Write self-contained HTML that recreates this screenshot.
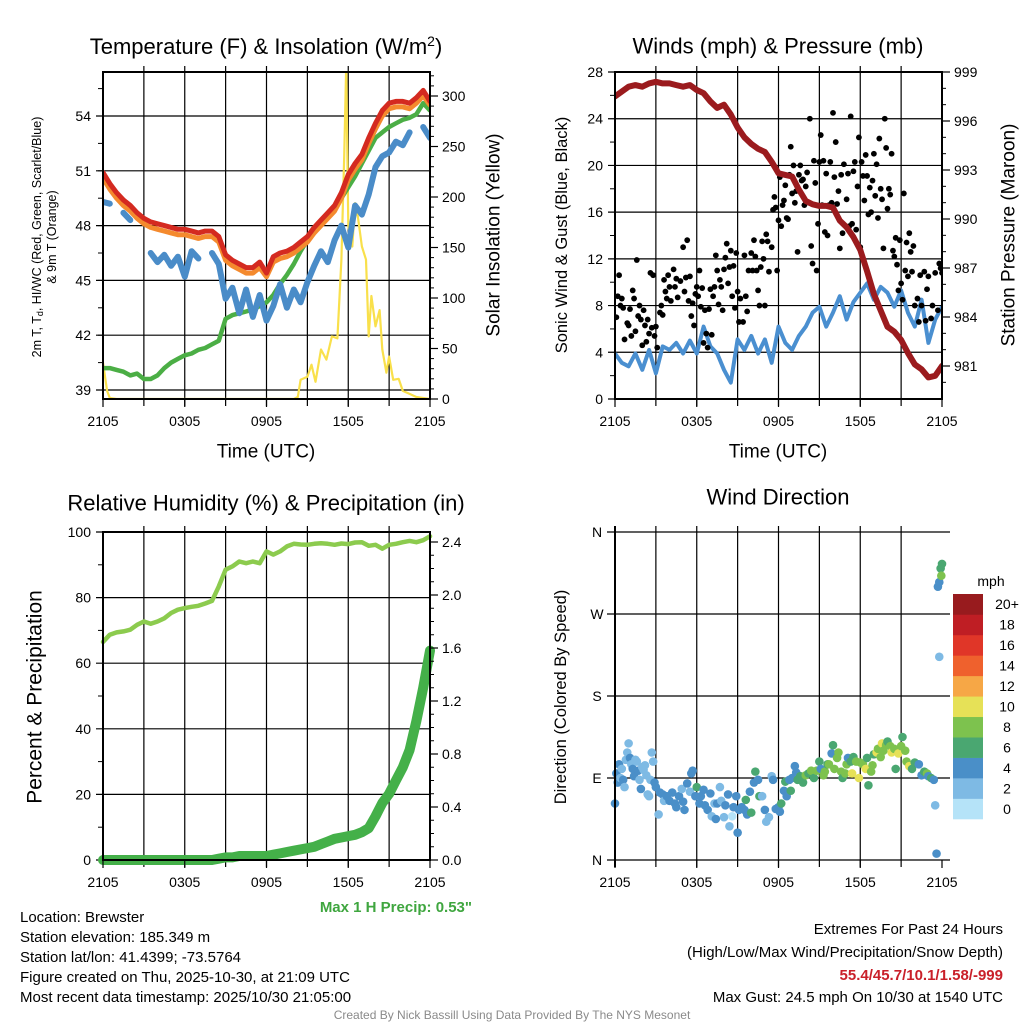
<!DOCTYPE html>
<html><head><meta charset="utf-8">
<style>
html,body{margin:0;padding:0;background:#fff;}
svg{display:block;font-family:"Liberation Sans",Arial,sans-serif;}
</style></head>
<body>
<svg id="chart" width="1024" height="1024" viewBox="0 0 1024 1024" xmlns="http://www.w3.org/2000/svg">
<rect x="0" y="0" width="1024" height="1024" fill="#fff"/>
<defs>
<clipPath id="c1"><rect x="103" y="72" width="327" height="327"/></clipPath>
<clipPath id="c2"><rect x="615" y="72" width="327" height="327"/></clipPath>
<clipPath id="c3"><rect x="98" y="532" width="340" height="333"/></clipPath>
<clipPath id="c4"><rect x="605" y="525" width="345" height="340"/></clipPath>
</defs>
<g id="layer-grid"></g>
<g id="layer-data"></g>
<g id="layer-axes"></g>
<g id="layer-text">
<text x="266" y="54" font-size="22" text-anchor="middle">Temperature (F) &amp; Insolation (W/m<tspan dy="-8" font-size="14">2</tspan><tspan dy="8">)</tspan></text>
<text x="778" y="46" font-size="22" text-anchor="middle" dominant-baseline="central">Winds (mph) &amp; Pressure (mb)</text>
<text x="266" y="503" font-size="22" text-anchor="middle" dominant-baseline="central">Relative Humidity (%) &amp; Precipitation (in)</text>
<text x="778" y="497" font-size="22" text-anchor="middle" dominant-baseline="central">Wind Direction</text>
<text x="266" y="452" font-size="19" text-anchor="middle" dominant-baseline="central">Time (UTC)</text>
<text x="778" y="452" font-size="19" text-anchor="middle" dominant-baseline="central">Time (UTC)</text>
<text transform="translate(37,237) rotate(-90)" font-size="12.5" text-anchor="middle" dominant-baseline="central">2m T, T<tspan font-size="9" dy="3">d</tspan><tspan dy="-3">, HI/WC (Red, Green, Scarlet/Blue)</tspan></text>
<text transform="translate(52,237) rotate(-90)" font-size="12.5" text-anchor="middle" dominant-baseline="central">&amp; 9m T (Orange)</text>
<text transform="translate(494,235) rotate(-90)" font-size="19" text-anchor="middle" dominant-baseline="central">Solar Insolation (Yellow)</text>
<text transform="translate(562,235) rotate(-90)" font-size="16.5" text-anchor="middle" dominant-baseline="central">Sonic Wind &amp; Gust (Blue, Black)</text>
<text transform="translate(1009,235) rotate(-90)" font-size="19" text-anchor="middle" dominant-baseline="central">Station Pressure (Maroon)</text>
<text transform="translate(35,697) rotate(-90)" font-size="21" text-anchor="middle" dominant-baseline="central">Percent &amp; Precipitation</text>
<text transform="translate(561,697) rotate(-90)" font-size="16.5" text-anchor="middle" dominant-baseline="central">Direction (Colored By Speed)</text>
<text x="472" y="912" font-size="15" font-weight="bold" fill="#3fa63f" text-anchor="end">Max 1 H Precip: 0.53"</text>
<text x="20" y="922" font-size="15">Location: Brewster</text>
<text x="20" y="942" font-size="15">Station elevation: 185.349 m</text>
<text x="20" y="962" font-size="15">Station lat/lon: 41.4399; -73.5764</text>
<text x="20" y="982" font-size="15">Figure created on Thu, 2025-10-30, at 21:09 UTC</text>
<text x="20" y="1002" font-size="15">Most recent data timestamp: 2025/10/30 21:05:00</text>
<text x="1003" y="934" font-size="15" text-anchor="end">Extremes For Past 24 Hours</text>
<text x="1003" y="957" font-size="15" text-anchor="end">(High/Low/Max Wind/Precipitation/Snow Depth)</text>
<text x="1003" y="980" font-size="15" font-weight="bold" fill="#c9202a" text-anchor="end">55.4/45.7/10.1/1.58/-999</text>
<text x="1003" y="1002" font-size="15" text-anchor="end">Max Gust: 24.5 mph On 10/30 at 1540 UTC</text>
<text x="512" y="1019" font-size="12" fill="#8a8a8a" text-anchor="middle">Created By Nick Bassill Using Data Provided By The NYS Mesonet</text>
<text x="991" y="586" font-size="14" text-anchor="middle">mph</text>
</g>
</svg>
<script>
// ---------- DATA ----------
const xTickLabels = ["2105","0305","0905","1505","2105"];
const halfHours = [0,0.5,1,1.5,2,2.5,3,3.5,4,4.5,5,5.5,6,6.5,7,7.5,8,8.5,9,9.5,10,10.5,11,11.5,12,12.5,13,13.5,14,14.5,15,15.5,16,16.5,17,17.5,18,18.5,19,19.5,20,20.5,21,21.5,22,22.5,23,23.5,24];
const tempRed = [50.9,50.3,49.8,49.4,49.1,48.7,48.4,48.2,48.1,48.0,47.9,47.8,47.8,47.7,47.6,47.7,47.7,47.4,46.4,46.1,45.9,45.7,45.7,46.0,45.4,46.3,46.5,46.6,46.8,47.1,47.4,47.9,48.3,48.7,49.1,49.8,50.8,51.4,51.9,52.8,53.6,54.3,54.7,54.8,54.8,54.7,55.0,55.4,54.8];
const tempOrange = [50.6,50.0,49.5,49.1,48.8,48.4,48.1,47.9,47.8,47.7,47.6,47.5,47.5,47.4,47.3,47.4,47.4,47.1,46.1,45.8,45.6,45.4,45.4,45.7,45.2,46.0,46.2,46.3,46.5,46.8,47.1,47.6,48.0,48.4,48.8,49.5,50.5,51.1,51.6,52.5,53.3,54.0,54.4,54.5,54.5,54.4,54.7,55.1,54.6];
const tempGreen = [40.2,40.2,40.1,40.0,39.8,39.9,39.6,39.6,39.8,40.2,40.5,40.7,40.9,41.0,41.2,41.3,41.5,41.7,42.9,43.1,43.2,43.3,43.4,43.6,43.8,44.2,44.8,45.3,45.9,46.6,47.2,47.6,48.0,48.5,49.0,49.5,50.1,50.7,51.4,52.1,52.8,53.1,53.4,53.6,53.8,53.9,54.1,54.7,54.3];
const tempBlue = [49.3,49.2,null,48.7,48.3,null,null,46.5,46.0,46.4,45.8,46.3,45.2,46.6,46.2,null,46.5,45.9,44.0,44.6,43.2,44.5,43.0,44.2,42.8,43.6,44.8,43.5,44.5,43.8,44.9,45.8,46.6,46.0,47.2,48.0,46.8,49.1,48.6,49.7,51.2,51.8,52.0,52.6,52.4,53.1,null,53.4,52.8];
const insolTimes = [0,0.3,0.5,1,14,14.3,14.5,15,15.3,15.6,16,16.4,16.8,17.2,17.5,17.7,17.85,18,18.3,18.5,18.7,19,19.3,19.5,19.7,20,20.3,20.5,20.8,21,21.3,21.7,22,22.5,23,24];
const insolValues = [36,8,1,0,0,2,19,22,34,17,49,39,62,60,138,240,330,171,151,194,181,151,138,62,102,72,88,49,26,42,19,20,8,5,2,0];
const pressure = [997.5,997.8,998.1,998.2,998.1,998.3,998.4,998.3,998.3,998.2,998.1,998.2,997.9,997.7,997.2,996.8,997.0,996.4,995.6,995.0,994.6,994.3,994.1,993.5,992.8,992.7,992.6,991.8,991.1,990.9,990.8,990.8,990.7,989.9,989.5,988.9,988.1,986.8,985.4,984.4,983.4,983.1,982.6,981.8,981.1,980.8,980.3,980.4,981.0];
const sonicWind = [3.9,3.1,2.8,3.9,2.5,4.2,2.2,4.5,4.2,4.8,3.9,5.0,3.9,6.2,4.5,3.9,2.5,1.4,5.1,4.2,5.4,3.9,5.1,3.1,6.2,4.8,4.2,5.4,6.2,7.4,7.9,6.2,7.4,8.8,6.8,8.3,9.1,9.9,8.5,9.6,9.1,7.9,9.3,7.4,6.2,8.5,4.8,6.8,7.9];
const gustObs = [[0.1,7.0],[0.2,8.8],[0.3,10.6],[0.4,8.0],[0.5,8.6],[0.6,7.8],[0.7,5.1],[0.9,6.5],[1.0,6.3],[1.1,7.7],[1.2,5.4],[1.3,9.3],[1.4,8.6],[1.5,5.8],[1.6,11.9],[1.7,7.1],[1.8,8.0],[1.9,6.8],[2.0,4.6],[2.1,7.6],[2.2,6.3],[2.3,4.9],[2.4,6.8],[2.5,5.6],[2.6,10.8],[2.7,6.1],[2.8,10.6],[2.9,5.4],[3.0,6.2],[3.1,4.4],[3.3,7.4],[3.4,8.0],[3.5,7.2],[3.6,10.2],[3.7,9.2],[3.8,8.6],[3.9,10.6],[4.0,9.6],[4.1,8.4],[4.3,11.1],[4.4,9.6],[4.5,10.3],[4.6,8.7],[4.8,10.1],[5.0,13.0],[5.1,9.2],[5.2,10.4],[5.3,13.6],[5.4,8.4],[5.5,10.5],[5.6,7.1],[5.7,8.2],[5.8,6.3],[5.9,9.0],[6.0,9.6],[6.1,8.8],[6.2,11.0],[6.3,7.9],[6.4,9.5],[6.5,4.8],[6.6,7.6],[6.7,5.6],[6.8,4.4],[6.9,7.7],[7.0,9.4],[7.1,5.5],[7.2,8.8],[7.3,9.6],[7.4,12.3],[7.5,11.0],[7.6,8.1],[7.7,10.2],[7.8,9.6],[7.9,7.6],[8.0,11.1],[8.1,12.1],[8.2,13.3],[8.3,9.9],[8.4,11.3],[8.5,12.7],[8.6,8.8],[8.7,11.4],[8.8,7.8],[8.9,12.5],[9.0,9.2],[9.1,6.6],[9.2,8.6],[9.4,6.6],[9.5,12.3],[9.6,8.8],[9.7,7.5],[9.8,11.0],[10.0,12.5],[10.1,11.0],[10.2,13.6],[10.3,12.2],[10.4,11.0],[10.5,9.3],[10.6,8.0],[10.7,11.3],[10.8,13.5],[10.9,12.0],[11.0,8.0],[11.1,14.1],[11.2,13.5],[11.3,10.9],[11.5,13.0],[11.6,16.2],[11.7,17.3],[11.8,16.4],[11.9,11.0],[12.0,15.3],[12.1,19.0],[12.2,14.8],[12.3,16.6],[12.4,17.0],[12.5,18.3],[12.6,15.5],[12.7,15.4],[12.8,19.2],[12.9,21.6],[13.0,17.6],[13.1,20.0],[13.2,16.8],[13.3,17.8],[13.4,12.6],[13.5,19.2],[13.6,20.0],[13.7,18.7],[13.8,18.8],[13.9,16.6],[14.0,18.2],[14.1,19.4],[14.3,24.0],[14.4,13.1],[14.5,11.6],[14.6,20.4],[14.7,18.5],[14.8,11.0],[14.9,15.0],[15.0,20.3],[15.1,22.6],[15.2,16.6],[15.3,20.4],[15.4,14.3],[15.5,19.3],[15.6,14.0],[15.7,16.6],[15.8,20.3],[15.9,16.8],[16.0,24.5],[16.1,19.0],[16.2,22.0],[16.3,16.7],[16.4,17.8],[16.5,12.9],[16.6,19.2],[16.7,14.2],[16.8,20.1],[17.0,17.1],[17.1,19.3],[17.2,14.8],[17.3,24.2],[17.4,15.0],[17.5,19.5],[17.6,20.3],[17.7,14.5],[17.8,18.2],[17.9,22.4],[18.0,13.0],[18.1,20.3],[18.2,19.1],[18.3,17.0],[18.4,20.9],[18.5,19.1],[18.6,15.8],[18.7,18.1],[18.8,16.0],[18.9,18.7],[19.0,21.0],[19.1,17.4],[19.2,20.1],[19.3,15.5],[19.4,22.3],[19.5,18.0],[19.6,17.1],[19.7,12.9],[19.8,24.0],[19.9,21.5],[20.0,16.3],[20.1,18.0],[20.2,17.5],[20.3,21.0],[20.4,12.7],[20.5,12.2],[20.6,13.8],[20.7,11.5],[20.8,9.3],[20.9,13.6],[21.0,9.9],[21.1,8.5],[21.2,17.6],[21.3,11.0],[21.4,13.4],[21.5,10.5],[21.6,14.2],[21.7,12.6],[21.8,10.9],[21.9,13.1],[22.0,8.0],[22.2,8.6],[22.3,6.6],[22.4,10.6],[22.5,8.0],[22.7,10.9],[22.8,6.7],[22.9,9.4],[23.0,10.5],[23.2,6.9],[23.3,8.0],[23.5,10.8],[23.7,7.6],[23.8,11.6],[23.9,11.2],[24.0,10.8]];
const rhValues = [66.5,68.7,69.4,69.7,70.2,71.7,72.7,72.0,72.7,73.7,75.3,76.3,76.8,77.2,77.5,78.2,79.0,83.4,88.5,89.5,91.0,90.5,91.0,90.5,94.1,93.1,94.1,95.6,96.4,96.2,96.1,96.4,96.6,96.4,96.1,96.5,96.3,96.8,96.9,95.8,96.1,94.9,96.1,96.4,96.9,97.3,96.9,97.5,98.7];
const precipValues = [0,0,0,0,0,0,0,0,0,0,0,0,0,0,0,0,0,0.01,0.02,0.02,0.03,0.03,0.03,0.03,0.03,0.04,0.05,0.06,0.07,0.08,0.09,0.10,0.12,0.14,0.16,0.17,0.18,0.19,0.21,0.24,0.33,0.43,0.5,0.6,0.7,0.83,1.05,1.30,1.58];
const dirObs = [[0.0,62,4],[0.1,95,4],[0.2,85,4],[0.3,105,4],[0.4,90,2],[0.5,100,2],[0.6,88,4],[0.7,80,2],[0.8,110,2],[0.9,118,2],[1.0,128,2],[1.1,112,4],[1.2,105,2],[1.3,100,4],[1.4,92,4],[1.5,110,2],[1.6,108,2],[1.7,98,4],[1.8,88,2],[1.9,78,4],[2.0,102,2],[2.1,99,2],[2.2,104,2],[2.3,93,2],[2.4,72,2],[2.5,70,2],[2.6,88,2],[2.7,118,2],[2.8,108,2],[2.9,85,4],[3.0,80,4],[3.2,50,2],[3.3,74,4],[3.5,72,4],[3.6,65,2],[3.8,70,4],[4.0,65,4],[4.2,74,4],[4.4,62,4],[4.5,58,4],[4.7,70,4],[4.9,78,2],[5.0,64,4],[5.1,55,4],[5.3,84,4],[5.5,75,2],[5.6,95,4],[5.7,98,4],[5.9,70,4],[6.0,80,6],[6.2,62,4],[6.3,70,4],[6.5,77,4],[6.6,60,4],[6.8,55,4],[7.0,73,4],[7.1,48,2],[7.3,62,2],[7.4,45,4],[7.5,62,4],[7.7,80,2],[7.8,65,2],[8.0,47,2],[8.1,60,4],[8.3,72,4],[8.4,37,2],[8.6,48,0],[8.7,58,4],[8.9,70,4],[9.0,30,4],[9.1,55,4],[9.3,58,4],[9.5,55,4],[9.6,66,6],[9.7,50,4],[9.9,75,4],[10.0,52,6],[10.2,85,4],[10.3,97,6],[10.5,88,4],[10.6,70,6],[10.8,70,2],[11.0,55,4],[11.1,42,2],[11.3,47,2],[11.5,92,2],[11.6,88,4],[11.8,56,4],[12.0,58,4],[12.1,53,4],[12.2,62,6],[12.4,76,4],[12.5,86,6],[12.6,70,4],[12.8,88,4],[12.9,76,6],[13.0,90,4],[13.2,103,4],[13.3,96,4],[13.4,88,6],[13.6,92,6],[13.8,85,6],[14.0,93,8],[14.2,95,6],[14.4,98,8],[14.6,90,6],[14.8,98,8],[15.0,108,6],[15.1,100,4],[15.3,93,8],[15.4,97,8],[15.6,105,6],[15.7,105,8],[15.9,117,4],[16.0,126,6],[16.1,100,8],[16.3,112,8],[16.4,118,8],[16.6,97,8],[16.7,90,6],[16.9,95,8],[17.0,105,8],[17.1,112,4],[17.3,108,6],[17.4,95,10],[17.5,113,6],[17.7,108,8],[17.9,90,10],[18.0,107,8],[18.2,105,8],[18.4,100,10],[18.5,112,6],[18.6,82,6],[18.8,97,8],[18.9,104,8],[19.0,116,6],[19.2,118,10],[19.3,122,8],[19.5,113,8],[19.6,128,10],[19.7,120,8],[19.9,126,8],[20.0,130,6],[20.2,125,8],[20.3,118,10],[20.5,122,8],[20.6,100,6],[20.8,117,10],[21.0,125,8],[21.1,135,6],[21.3,120,8],[21.4,108,8],[21.6,103,10],[21.8,100,6],[22.0,107,6],[22.3,105,4],[22.5,93,4],[22.7,97,6],[22.9,95,8],[23.0,92,4],[23.2,90,6],[23.4,88,4],[23.5,60,2],[23.6,7,4],[23.7,300,4],[23.8,223,2],[23.8,305,4],[23.9,320,6],[23.95,312,8],[24.0,325,6]];
const speedLabels = ["0","2","4","6","8","10","12","14","16","18","20+"];
const speedColors = ["#b5e3f8","#7ebae4","#4a8fc8","#4aa771","#7dc24e","#e6e157","#f6a746","#ef612d","#e03628","#bf1e24","#981b1e"];

// ---------- HELPERS ----------
const NS = "http://www.w3.org/2000/svg";
const gGrid = document.getElementById("layer-grid");
const gData = document.getElementById("layer-data");
const gAxes = document.getElementById("layer-axes");
function el(tag, attrs, parent){
  const e = document.createElementNS(NS, tag);
  for (const k in attrs) e.setAttribute(k, attrs[k]);
  parent.appendChild(e);
  return e;
}
function makeX(x0){ return h => x0 + h * (327/24); }
const P1 = {x0:103,x1:430,y0:72,y1:399};
const P2 = {x0:615,x1:942,y0:72,y1:399};
const P3 = {x0:103,x1:430,y0:532,y1:860};
const P4 = {x0:615,x1:942,y0:532,y1:860};
const yTemp = v => 390 - (v-39)*(274/15);
const yIns = v => 399 - v*1.01;
const yWind = v => 399 - v*(327/28);
const yPres = p => 72 + (999-p)*(49/3);
const yRH = v => 860 - v*3.28;
const yPcp = v => 860 - v*132.5;
const yDir = d => 860 - d*(328/360);

function linePath(times, vals, xf, yf){
  let d = "", pen = false;
  for (let i=0;i<vals.length;i++){
    if (vals[i]===null){ pen=false; continue; }
    const x = xf(times[i]).toFixed(1), y = yf(vals[i]).toFixed(1);
    d += (pen ? "L" : "M") + x + " " + y + " ";
    pen = true;
  }
  return d;
}

function panelFrame(P, key, leftTicks, leftFmt, leftMinor, yL, rightTicks, rightFmt, rightMinor, yR){
  const xf = makeX(P.x0);
  for (let h=3; h<24; h+=3){
    const ln = el("line",{x1:xf(h),x2:xf(h),y1:P.y0-6,y2:P.y1+7,stroke:"#000","stroke-width":1.2},gGrid);
    
    
  }
  leftTicks.forEach(v=>{
    const y = yL(v);
    const ln = el("line",{x1:P.x0-7,x2:P.x1+(rightTicks?0:7),y1:y,y2:y,stroke:"#000","stroke-width":1.2},gGrid);
    
    
    const t = el("text",{x:P.x0-12,y:y,"font-size":14,"text-anchor":"end","dominant-baseline":"central"},gAxes);
    t.textContent = leftFmt(v);
    
    
  });
  leftMinor.forEach(v=>{
    const ln = el("line",{x1:P.x0-5,x2:P.x0,y1:yL(v),y2:yL(v),stroke:"#000","stroke-width":1},gAxes);
    
    
  });
  if (rightTicks){
    rightTicks.forEach(v=>{
      const y = yR(v);
      const ln = el("line",{x1:P.x1,x2:P.x1+8,y1:y,y2:y,stroke:"#000","stroke-width":1.2},gAxes);
      
      
      const t = el("text",{x:P.x1+12,y:y,"font-size":14,"text-anchor":"start","dominant-baseline":"central"},gAxes);
      t.textContent = rightFmt(v);
      
      
    });
    rightMinor.forEach(v=>{
      const ln = el("line",{x1:P.x1,x2:P.x1+4,y1:yR(v),y2:yR(v),stroke:"#000","stroke-width":1},gAxes);
      
      
    });
  }
  xTickLabels.forEach((lab,i)=>{
    const h = i*6;
    const tk = el("line",{x1:xf(h),x2:xf(h),y1:P.y1,y2:P.y1+8,stroke:"#000","stroke-width":1.2},gAxes);
    
    
    const t = el("text",{x:xf(h),y:P.y1+27,"font-size":14,"text-anchor":"middle"},gAxes);
    t.textContent = lab;
    
    
  });
  const fr = el("rect",{x:P.x0,y:P.y0,width:P.x1-P.x0,height:P.y1-P.y0,fill:"none",stroke:"#000","stroke-width":2},gAxes);
  
  
}
function range(a,b,s){ const r=[]; for(let v=a; v<=b+1e-9; v+=s) r.push(+v.toFixed(4)); return r; }

// ---------- PANEL 1 ----------
panelFrame(P1,"temperature",[39,42,45,48,51,54],v=>String(v),range(40.5,55.5,1.5),yTemp,
  [0,50,100,150,200,250,300],v=>String(v),range(0,320,10),yIns);
{
  const xf = makeX(P1.x0);
  const g = el("g",{"clip-path":"url(#c1)"},gData);
  
  
  const ins = el("path",{d:linePath(insolTimes,insolValues,xf,yIns),fill:"none",stroke:"#f9e04b","stroke-width":2.2,"stroke-linejoin":"round"},g);
  
  
  const gr = el("path",{d:linePath(halfHours,tempGreen,xf,yTemp),fill:"none",stroke:"#4bae45","stroke-width":4.5,"stroke-linejoin":"round","stroke-linecap":"round"},g);
  
  
  const bl = el("path",{d:linePath(halfHours,tempBlue,xf,yTemp),fill:"none",stroke:"#4a8cc8","stroke-width":6,"stroke-linejoin":"round","stroke-linecap":"round"},g);
  
  
  const or = el("path",{d:linePath(halfHours,tempOrange,xf,yTemp),fill:"none",stroke:"#f48a2e","stroke-width":5,"stroke-linejoin":"round","stroke-linecap":"round"},g);
  
  
  const rd = el("path",{d:linePath(halfHours,tempRed,xf,yTemp),fill:"none",stroke:"#d42a20","stroke-width":5,"stroke-linejoin":"round","stroke-linecap":"round"},g);
  
  
}

// ---------- PANEL 2 ----------
panelFrame(P2,"winds",[0,4,8,12,16,20,24,28],v=>String(v),range(2,26,4),yWind,
  [981,984,987,990,993,996,999],v=>String(v),range(980,999,1),yPres);
{
  const xf = makeX(P2.x0);
  const g = el("g",{"clip-path":"url(#c2)"},gData);
  
  
  const wl = el("path",{d:linePath(halfHours,sonicWind,xf,yWind),fill:"none",stroke:"#4a8fd0","stroke-width":4,"stroke-linejoin":"round"},g);
  
  
  gustObs.forEach(o=>{
    const c = el("circle",{cx:xf(o[0]),cy:yWind(o[1]),r:2.9,fill:"#000"},g);
    
    
  });
  const pl = el("path",{d:linePath(halfHours,pressure,xf,yPres),fill:"none",stroke:"#9b1b1e","stroke-width":6,"stroke-linejoin":"round","stroke-linecap":"round"},g);
  
  
}

// ---------- PANEL 3 ----------
panelFrame(P3,"humidity",[0,20,40,60,80,100],v=>String(v),range(10,90,20),yRH,
  [0,0.4,0.8,1.2,1.6,2.0,2.4],v=>v.toFixed(1),range(0,2.4,0.1),yPcp);
{
  const xf = makeX(P3.x0);
  const g = el("g",{"clip-path":"url(#c3)"},gData);
  
  
  const rh = el("path",{d:linePath(halfHours,rhValues,xf,yRH),fill:"none",stroke:"#8ccb4e","stroke-width":4.5,"stroke-linejoin":"round","stroke-linecap":"round"},g);
  
  
  const pc = el("path",{d:linePath(halfHours,precipValues,xf,yPcp),fill:"none",stroke:"#44b049","stroke-width":10,"stroke-linejoin":"round","stroke-linecap":"round"},g);
  
  
}

// ---------- PANEL 4 ----------
{
  const P = P4, xf = makeX(P.x0);
  const dirTicks = [0,90,180,270,360], dirLabels=["N","E","S","W","N"];
  for (let h=3; h<24; h+=3){
    const ln = el("line",{x1:xf(h),x2:xf(h),y1:P.y0-6,y2:P.y1+7,stroke:"#000","stroke-width":1.2},gGrid);
    
    
  }
  dirTicks.forEach((d,i)=>{
    const y = yDir(d);
    const ln = el("line",{x1:P.x0-8,x2:P.x1+8,y1:y,y2:y,stroke:"#000","stroke-width":1.2},gGrid);
    
    
    const t = el("text",{x:P.x0-18,y:y,"font-size":14,"text-anchor":"middle","dominant-baseline":"central"},gAxes);
    t.textContent = dirLabels[i];
    
    
  });
  xTickLabels.forEach((lab,i)=>{
    const h=i*6;
    const tk = el("line",{x1:xf(h),x2:xf(h),y1:P.y1,y2:P.y1+8,stroke:"#000","stroke-width":1.2},gAxes);
    
    
    const t = el("text",{x:xf(h),y:P.y1+27,"font-size":14,"text-anchor":"middle"},gAxes);
    t.textContent = lab;
    
    
  });
  const ax = el("line",{x1:P.x0,x2:P.x0,y1:P.y0-6,y2:P.y1+7,stroke:"#000","stroke-width":2},gAxes);
  
  
  const g = el("g",{"clip-path":"url(#c4)"},gData);
  
  
  dirObs.forEach(o=>{
    const idx = Math.min(10, Math.max(0, Math.round(o[2]/2)));
    const c = el("circle",{cx:xf(o[0]),cy:yDir(o[1]),r:4.3,fill:speedColors[idx]},g);
    
    
  });
  const cbTop = 594, cbH = 225/11;
  speedLabels.forEach((lab,i)=>{
    const k = 10 - i;
    const r = el("rect",{x:953,y:cbTop + k*cbH,width:30,height:cbH+0.3,fill:speedColors[i]},gAxes);
    
    
    const t = el("text",{x:1007,y:cbTop + k*cbH + cbH/2,"font-size":14,"text-anchor":"middle","dominant-baseline":"central"},gAxes);
    t.textContent = lab;
    
    
  });
}
</script>
</body></html>
